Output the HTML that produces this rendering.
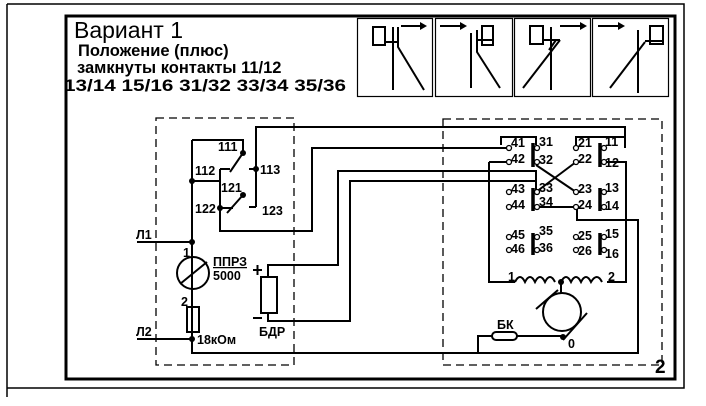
<!DOCTYPE html>
<html><head><meta charset="utf-8"><style>
html,body{margin:0;padding:0;background:#fff;}
svg{display:block;}
text{font-family:"Liberation Sans",sans-serif;font-weight:bold;fill:#000;}
</style></head><body>
<svg width="706" height="406" viewBox="0 0 706 406" xmlns="http://www.w3.org/2000/svg">
<g fill="none" stroke="#000">
<path d="M7,4 H684 V388 H7 M7,4 V397" stroke-width="1.5"/>
<rect x="66" y="16" width="609" height="363" stroke-width="3"/>
<rect x="357.5" y="18.5" width="75" height="78" stroke-width="1.2"/>
<rect x="435.5" y="18.5" width="77" height="78" stroke-width="1.2"/>
<rect x="514.5" y="18.5" width="76" height="78" stroke-width="1.2"/>
<rect x="592.5" y="18.5" width="76" height="78" stroke-width="1.2"/>
<g stroke-width="2">
<rect x="373" y="27" width="12" height="18"/>
<path d="M385,42 H398 M393,27 V90 M398,27 V47 L424,90 M401,26 H420"/>
<path d="M440,26 H460 M471,33 V88 M477,30 V52 L500,88 M477,40 H493"/>
<rect x="482" y="26" width="11" height="19"/>
<rect x="530" y="26" width="13" height="18"/>
<path d="M543,40 H560 M551,27 V90 M560,40 L523,88 M556,40 L549,50 M560,26 H580"/>
<path d="M598,26 H618 M638,30 V93 M645,41 H663 M645,42 L610,88"/>
<rect x="650" y="26" width="13" height="18"/>
</g>
<rect x="156" y="118" width="138" height="247" stroke-width="1.3" stroke-dasharray="8,5"/>
<rect x="443" y="119" width="219" height="246" stroke-width="1.3" stroke-dasharray="8,5"/>
<g stroke-width="2">
<path d="M192,140 V353 H638 V220 H577 V207"/>
<path d="M192,140 H243 V153 L230,172"/>
<path d="M220,169 H230 M220,169 V231 H312 V148 H509 M192,181 H220"/>
<path d="M243,195 L227,213 M220,208 H233"/>
<path d="M249,169 H256 M249,207 H256 M256,207 V127 H625 V148"/>
<path d="M137,242 H192 M137,339 H192"/>
<path d="M268,277 V265 H338 V171 H536 V190"/>
<path d="M268,313 V321 H350 V181 H536"/>
<rect x="187" y="307" width="12" height="25"/>
<rect x="261" y="277" width="16" height="36"/>
<circle cx="193" cy="273" r="16"/>
<path d="M180,284 L207,262"/>
<path d="M253,270 H262 M257.5,265 V275 M253,318 H262"/>
<path d="M501,145 V137 H536 V145 M576,145 V137 H625"/>
<path d="M489,162 H509 M489,162 V282 H515 M607,282 H626 V162 H603"/>
<path d="M536,165 L576,192 M576,162 L536,192"/>
<path d="M536,207 H577"/>
<path d="M478,353 V336 H492 M517,336 H563"/>
<path d="M515,282 q5,-10 10,0 q5,-10 10,0 q5,-10 10,0 q5,-10 10,0 M561,282 q5,-10 10,0 q5,-10 10,0 q5,-10 10,0 q6,-10 11,0"/>
<path d="M561,282 V293"/>
<circle cx="562" cy="312" r="19"/>
<path d="M536,309 L558,290 M563,340 L587,313"/>
<rect x="492" y="332" width="25" height="8" rx="4"/>
</g>
<g stroke-width="3.5">
<path d="M533,143 V167 M533,188 V211 M533,233 V255 M600,143 V167 M600,188 V211 M600,233 V255"/>
</g>
<g stroke-width="1.3" fill="#fff">
<circle cx="509" cy="148" r="2.5"/><circle cx="509" cy="162" r="2.5"/><circle cx="509" cy="192" r="2.5"/><circle cx="509" cy="207" r="2.5"/><circle cx="509" cy="237" r="2.5"/><circle cx="509" cy="250" r="2.5"/>
<circle cx="576" cy="148" r="2.5"/><circle cx="576" cy="162" r="2.5"/><circle cx="576" cy="192" r="2.5"/><circle cx="576" cy="207" r="2.5"/><circle cx="576" cy="237" r="2.5"/><circle cx="576" cy="250" r="2.5"/>
<circle cx="537" cy="148" r="2.5"/><circle cx="537" cy="162" r="2.5"/><circle cx="537" cy="192" r="2.5"/><circle cx="537" cy="207" r="2.5"/><circle cx="537" cy="237" r="2.5"/><circle cx="537" cy="250" r="2.5"/>
<circle cx="604" cy="148" r="2.5"/><circle cx="604" cy="162" r="2.5"/><circle cx="604" cy="192" r="2.5"/><circle cx="604" cy="207" r="2.5"/><circle cx="604" cy="237" r="2.5"/><circle cx="604" cy="250" r="2.5"/>
</g>
</g>
<g fill="#000">
<path d="M420,22 L427,26 L420,30Z M460,22 L467,26 L460,30Z M580,22 L587,26 L580,30Z M618,22 L625,26 L618,30Z"/>
<circle cx="192" cy="181" r="3"/><circle cx="192" cy="242" r="3"/><circle cx="192" cy="339" r="3"/>
<circle cx="243" cy="153" r="3"/><circle cx="243" cy="195" r="3"/><circle cx="256" cy="169" r="3"/><circle cx="220" cy="208" r="3"/>
<circle cx="561" cy="282" r="3"/><circle cx="563" cy="337" r="3"/>
</g>
<text x="74" y="38" font-size="23" style="font-weight:normal">Вариант 1</text>
<text x="78" y="56" font-size="16.5">Положение (плюс)</text>
<text x="77" y="73" font-size="16.5">замкнуты контакты 11/12</text>
<text x="64" y="91" font-size="17" textLength="282" lengthAdjust="spacingAndGlyphs">13/14 15/16 31/32 33/34 35/36</text>
<g font-size="12.5">
<text x="218" y="151">111</text><text x="195" y="175">112</text><text x="260" y="174">113</text>
<text x="221" y="192">121</text><text x="195" y="213">122</text><text x="262" y="215">123</text>
<text x="136" y="239">Л1</text><text x="136" y="336">Л2</text>
<text x="183" y="257">1</text><text x="181" y="306">2</text>
<text x="213" y="266" text-decoration="underline">ППРЗ</text><text x="213" y="280">5000</text>
<text x="197" y="344">18кОм</text><text x="259" y="336">БДР</text>
<text x="511" y="147">41</text><text x="539" y="146">31</text><text x="511" y="163">42</text><text x="539" y="164">32</text>
<text x="511" y="193">43</text><text x="539" y="192">33</text><text x="511" y="209">44</text><text x="539" y="206">34</text>
<text x="511" y="239">45</text><text x="539" y="235">35</text><text x="511" y="253">46</text><text x="539" y="252">36</text>
<text x="578" y="147">21</text><text x="605" y="146">11</text><text x="578" y="163">22</text><text x="605" y="167">12</text>
<text x="578" y="193">23</text><text x="605" y="192">13</text><text x="578" y="209">24</text><text x="605" y="210">14</text>
<text x="578" y="240">25</text><text x="605" y="238">15</text><text x="578" y="255">26</text><text x="605" y="258">16</text>
<text x="508" y="281">1</text><text x="608" y="281">2</text>
<text x="497" y="329">БК</text><text x="568" y="348">0</text>
</g>
<text x="655" y="373" font-size="19">2</text>
</svg>
</body></html>
